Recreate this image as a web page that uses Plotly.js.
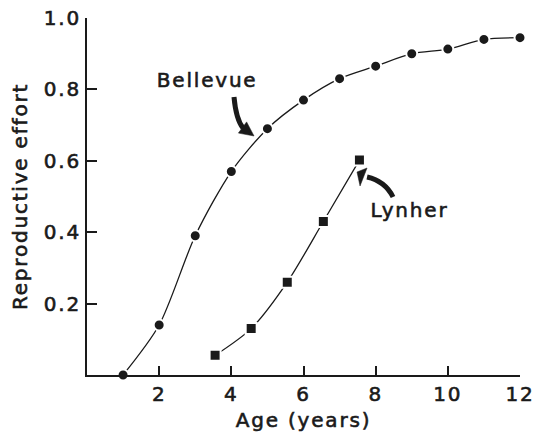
<!DOCTYPE html>
<html>
<head>
<meta charset="utf-8">
<script src="https://cdn.plot.ly/plotly-3.0.1.min.js"></script>
<style>
html,body{margin:0;padding:0;background:#fff;}
#chart{width:538px;height:438px;}
#chart svg text{letter-spacing:1.8px;stroke:#1a1a1a;stroke-width:0.6px;}
</style>
</head>
<body>
<div id="chart"></div>
<script>
var bellevueAge = [1, 2, 3, 4, 5, 6, 7, 8, 9, 10, 11, 12];
var bellevueEffort = [0.0, 0.14, 0.39, 0.57, 0.69, 0.77, 0.83, 0.865, 0.90, 0.913, 0.94, 0.945];
var lynherAge = [3.55, 4.55, 5.55, 6.55, 7.55];
var lynherEffort = [0.055, 0.13, 0.26, 0.43, 0.602];
var xTicks = [2, 4, 6, 8, 10, 12];
var yTicks = [0.2, 0.4, 0.6, 0.8, 1.0];
var yTickText = ['0.2', '0.4', '0.6', '0.8', '1.0'];

var FONT = 'DejaVu Sans, Verdana, sans-serif';
var INK = '#1a1a1a';
var FS = 20;

var traces = [
  {
    x: bellevueAge, y: bellevueEffort, type: 'scatter', mode: 'lines+markers',
    line: {shape: 'spline', smoothing: 0.8, color: INK, width: 1.3},
    marker: {symbol: 'circle', size: 11, color: INK, line: {color: '#fff', width: 2}},
    cliponaxis: false, hoverinfo: 'skip'
  },
  {
    x: lynherAge, y: lynherEffort, type: 'scatter', mode: 'lines+markers',
    line: {shape: 'spline', smoothing: 0.8, color: INK, width: 1.3},
    marker: {symbol: 'square', size: 11, color: INK, line: {color: '#fff', width: 2}},
    cliponaxis: false, hoverinfo: 'skip'
  }
];

var layout = {
  width: 538, height: 438,
  margin: {l: 87, r: 18, t: 18, b: 63},
  paper_bgcolor: '#fff', plot_bgcolor: '#fff',
  showlegend: false,
  font: {family: FONT, color: INK, size: FS},
  xaxis: {
    range: [0, 12], tickvals: xTicks, ticktext: xTicks.map(String),
    ticks: 'inside', ticklen: 9, tickwidth: 2, tickcolor: INK,
    showline: true, linecolor: INK, linewidth: 2, showgrid: false, zeroline: false,
    tickfont: {family: FONT, size: FS, color: INK},
    title: {text: 'Age (years)', font: {family: FONT, size: FS, color: INK}, standoff: 8}
  },
  yaxis: {
    range: [0, 1], tickvals: yTicks, ticktext: yTickText,
    ticks: 'inside', ticklen: 10, tickwidth: 2, tickcolor: INK,
    showline: true, linecolor: INK, linewidth: 2, showgrid: false, zeroline: false,
    tickfont: {family: FONT, size: FS, color: INK},
    title: {text: 'Reproductive effort', font: {family: FONT, size: FS, color: INK}, standoff: 16}
  },
  shapes: [
    {type: 'path', xref: 'x', yref: 'y', path: 'M 4.074 0.779 Q 4.130 0.717 4.324 0.692',
     line: {color: INK, width: 5}},
    {type: 'path', xref: 'x', yref: 'y', path: 'M 4.629 0.6695 L 4.196 0.6776 L 4.423 0.709 Z',
     fillcolor: INK, line: {color: INK, width: 0.5}},
    {type: 'path', xref: 'x', yref: 'y', path: 'M 8.481 0.4986 Q 8.259 0.5434 7.761 0.5546',
     line: {color: INK, width: 5}},
    {type: 'path', xref: 'x', yref: 'y', path: 'M 7.483 0.5686 L 7.761 0.5798 L 7.567 0.5294 Z',
     fillcolor: INK, line: {color: INK, width: 0.5}}
  ],
  annotations: [
    {x: 3.33, y: 0.826, xref: 'x', yref: 'y', text: 'Bellevue', showarrow: false,
     font: {family: FONT, size: FS, color: INK}},
    {x: 8.95, y: 0.462, xref: 'x', yref: 'y', text: 'Lynher', showarrow: false,
     font: {family: FONT, size: FS, color: INK}}
  ]
};

Plotly.newPlot('chart', traces, layout, {displayModeBar: false, staticPlot: true});
</script>
</body>
</html>
